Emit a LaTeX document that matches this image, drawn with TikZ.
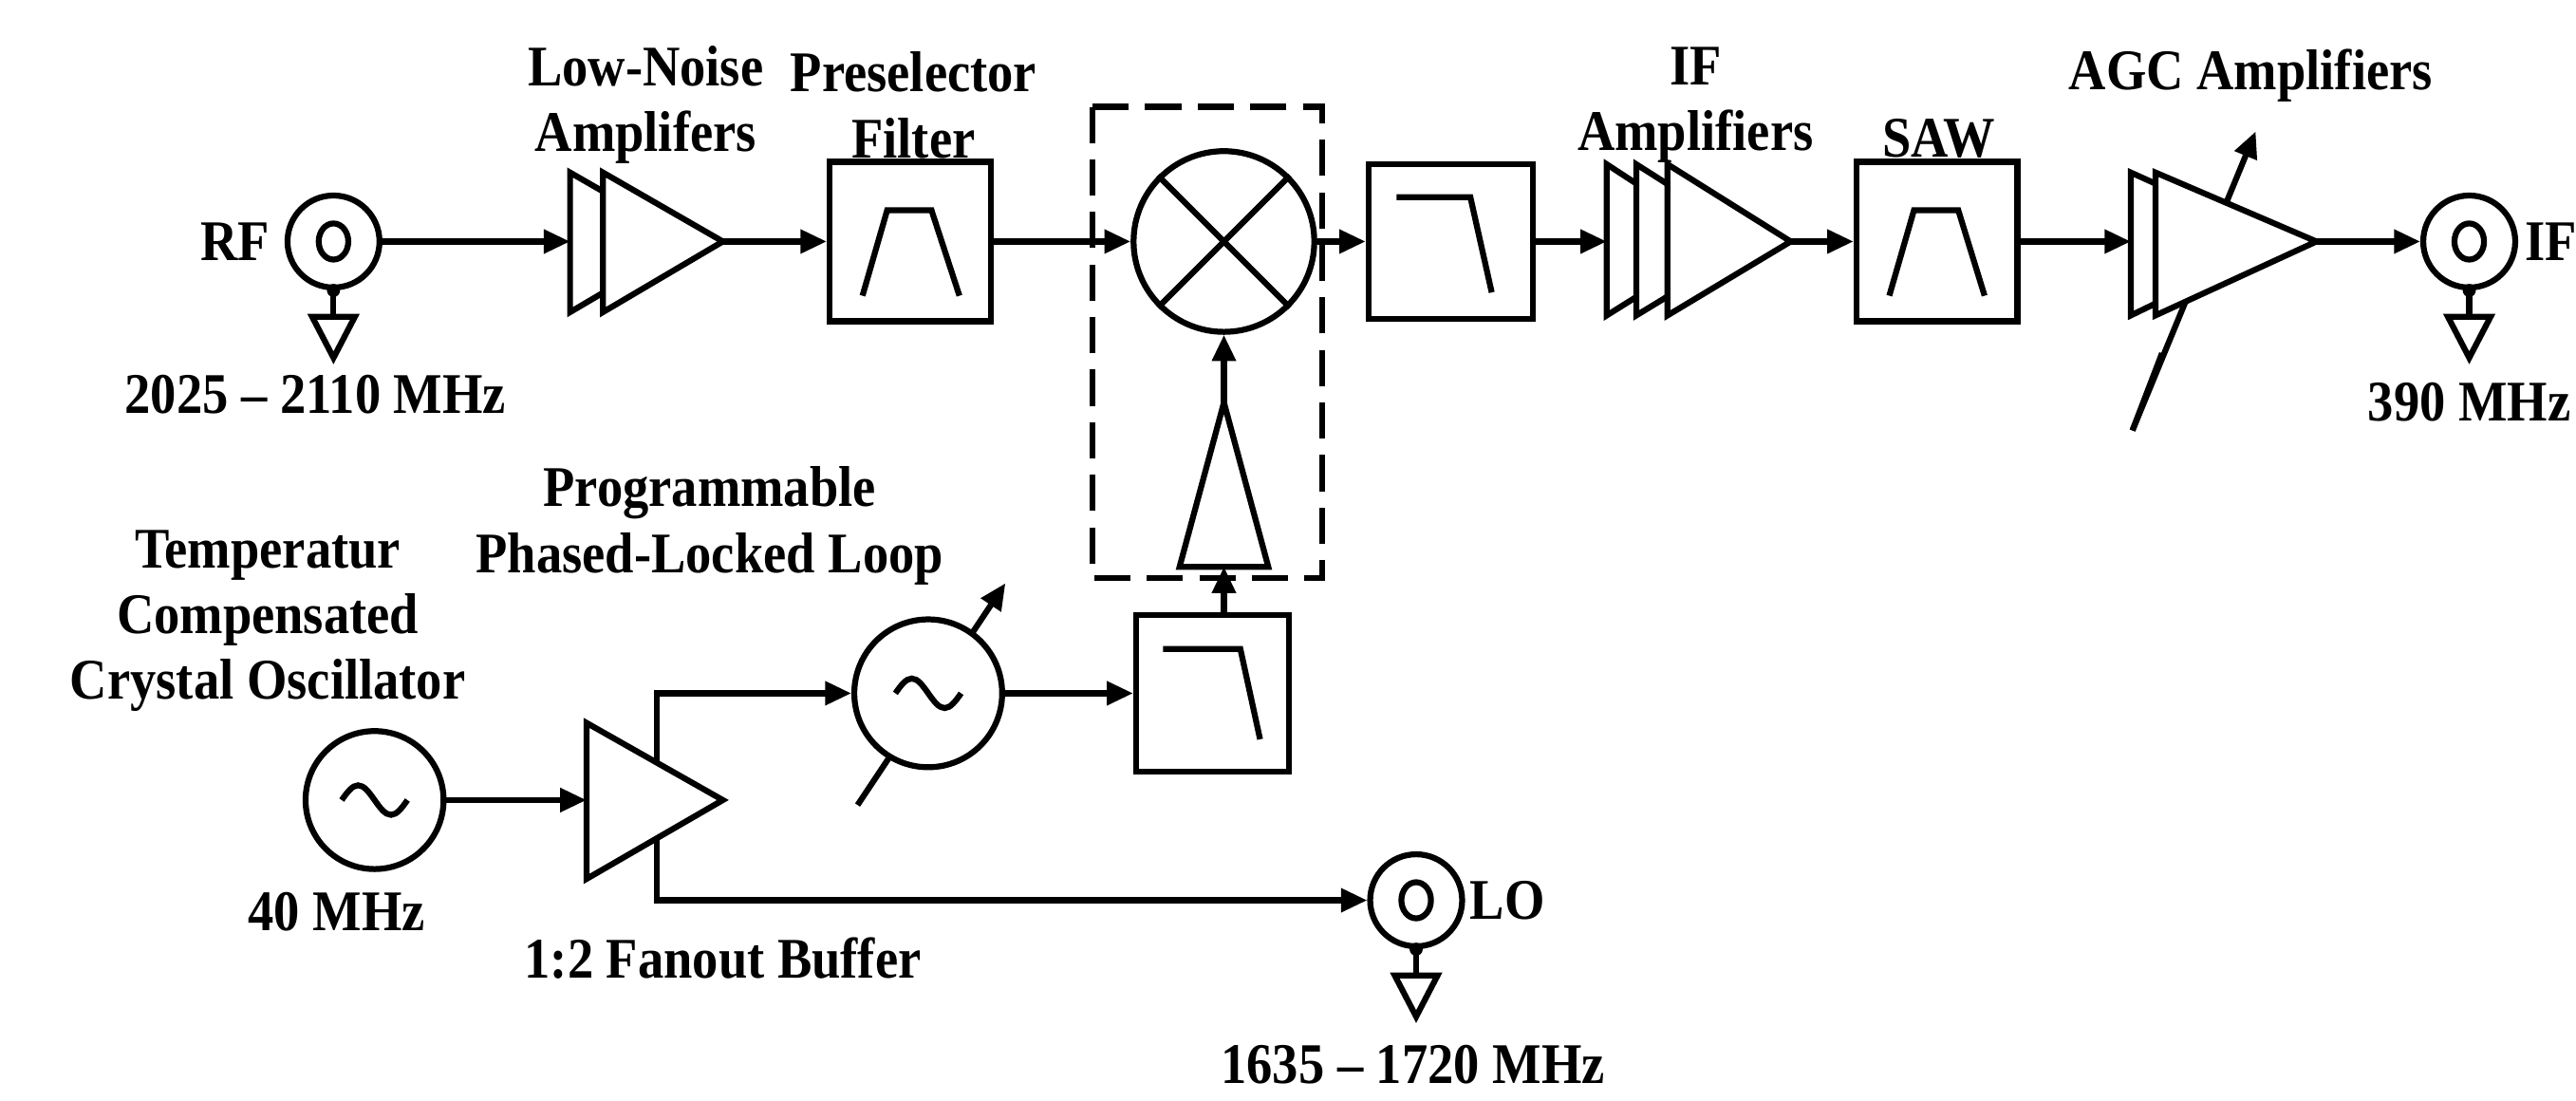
\documentclass[tikz,border=0pt]{standalone}
\usepackage{fontspec}
\setmainfont{Liberation Serif}[FakeStretch=0.9]
\usetikzlibrary{arrows.meta,calc}
\newcommand\myconn[2]{%
  \node[draw,fill=white,circle,minimum size=28pt,inner sep=0] (#1) at #2 {};
  \draw (#1.center) ellipse [x radius=9,y radius=11];
  \fill (#1.south) circle (4);
  \draw (#1.south) -- ++(0,16) coordinate (#1g);
  \draw[fill=white] ($(#1g)+(-13,0)$) -- ++(26,0) -- ++(-13,25) -- cycle;}
\newcommand\mysine[1]{\draw ($(#1)+(-20,0)$) sin ++(10,-9) cos ++(10,9) sin ++(10,9) cos ++(10,-9);}
\newcommand\mytri[4]{% left x, top y, bottom y, apex (x,y)
  \draw[fill=white,line join=miter] (#1,#2) -- #4 -- (#1,#3) -- cycle;}
\begin{document}
\begin{tikzpicture}[x=0.5pt,y=-0.5pt,line width=1.8pt,
  >={Triangle[length=8pt,width=7pt]},
  lbl/.style={font=\bfseries\fontsize{17.5}{20}\selectfont,align=center,inner sep=0},
  blk/.style={draw,fill=white,rectangle,minimum width=49pt,minimum height=48.5pt,inner sep=0}]
\useasboundingbox (0,0) rectangle (1568,670);
% ---------- RF chain ----------
\myconn{rf}{(203,147)}
\node[lbl,anchor=east] (rfl) at (166,147) {RF};
\node[lbl] (rff) at (192,240) {2025 -- 2110 MHz};
\coordinate (lna) at (347,147);
\mytri{347}{105}{190}{(420,147)}
\mytri{367}{105}{190}{(440,147)}
\coordinate (lnao) at (440,147);
\node[lbl] (lnal) at (393,64) {Low-Noise\\Amplifers};
\draw[->] (rf.east) -- (lna);
\node[blk] (pre) at (554,147) {};
\draw (525,180) -- (540,128) -- (567,128) -- (584,180);
\node[lbl] (prel) at (556,64) {Preselector\\Filter};
\draw[->] (lnao) -- (pre.west);
\node[draw,fill=white,circle,minimum size=55pt,inner sep=0] (mix) at (745,147) {};
\draw (mix.45) -- (mix.225) (mix.135) -- (mix.315);
\draw[->] (pre.east) -- (mix.west);
\draw[dash pattern=on 11pt off 5pt] (665,65) rectangle (805,352);
\node[blk,minimum width=50pt,minimum height=47pt] (lp1) at (883,147) {};
\draw (850,120) -- (895,120) -- (908,178);
\draw[->] (mix.east) -- (lp1.west);
\coordinate (ifa) at (978,147);
\mytri{978}{100}{192}{(1050,147)}
\mytri{996}{100}{192}{(1070,147)}
\mytri{1015}{100}{192}{(1090,147)}
\coordinate (ifo) at (1090,147);
\node[lbl] (ifl) at (1032,64) {IF\\Amplifiers};
\draw[->] (lp1.east) -- (ifa);
\node[blk] (saw) at (1179,147) {};
\draw (1150,180) -- (1165,128) -- (1192,128) -- (1208,180);
\node[lbl] (sawl) at (1180,84) {SAW};
\draw[->] (ifo) -- (saw.west);
\coordinate (agc) at (1297,147);
\draw[->] (1298,262) -- (1373,80);
\mytri{1297}{105}{192}{(1390,147)}
\mytri{1312}{105}{192}{(1410,147)}
\draw (1298,262) -- (1316,215);
\coordinate (agco) at (1410,147);
\node[lbl] (agcl) at (1370,46) {AGC Amplifiers};
\draw[->] (saw.east) -- (agc);
\myconn{if}{(1503,147)}
\node[lbl,anchor=west] (ifol) at (1535,147) {IF};
\node[lbl] (iff) at (1503,245) {390 MHz};
\draw[->] (agco) -- (if.west);
% ---------- LO chain ----------
\node[draw,fill=white,circle,minimum size=42pt,inner sep=0] (tcxo) at (228,487) {};
\mysine{tcxo}
\node[lbl] (tcxol) at (163,378) {Temperatur\\Compensated\\Crystal Oscillator};
\node[lbl] (tcxof) at (205,555) {40 MHz};
\coordinate (buf) at (357,487);
\mytri{357}{440}{535}{(440,487)}
\node[lbl] (bufl) at (440,583) {1:2 Fanout Buffer};
\draw[->] (tcxo.east) -- (buf);
\coordinate (bt) at (400,464);
\coordinate (bb) at (400,511);
\draw[->] (522,490) -- (612,355);
\node[draw,fill=white,circle,minimum size=45pt,inner sep=0] (pll) at (565,422) {};
\mysine{pll}
\node[lbl] (plll) at (432,320) {Programmable\\Phased-Locked Loop};
\draw[->] (bt) |- (pll.west);
\node[blk,minimum width=46.5pt,minimum height=47.5pt] (lp2) at (738,422) {};
\draw (708,395) -- (755,395) -- (767,450);
\draw[->] (pll.east) -- (lp2.west);
\coordinate (lob) at (745,345);
\coordinate (loa) at (745,245);
\draw[fill=white,line join=miter] (718,345) -- (loa) -- (772,345) -- cycle;
\draw[->] (lob|-lp2.north) -- (lob);
\draw[->] (loa) -- (mix.south);
\myconn{lo}{(862,548)}
\node[lbl,anchor=west] (lol) at (893,548) {LO};
\node[lbl] (lof) at (860,648) {1635 -- 1720 MHz};
\draw[->] (bb) |- (lo.west);
\end{tikzpicture}
\end{document}
